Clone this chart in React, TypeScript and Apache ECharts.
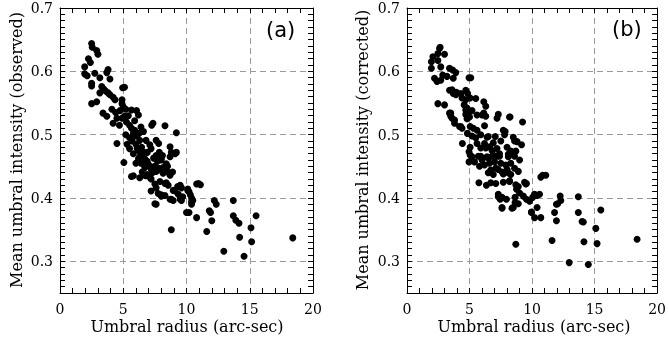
import React, { useEffect, useRef } from 'react';
import * as echarts from 'echarts';

// Panel (a): observed
const observedPoints: number[][] = [
  [2.5,0.644],[2.55,0.638],[2.9,0.633],[3.0,0.627],[2.25,0.620],[2.4,0.614],[1.95,0.607],[1.95,0.596],[2.15,0.593],[2.75,0.597],
  [3.15,0.590],[3.8,0.603],[3.7,0.598],[3.95,0.588],[2.5,0.581],[2.5,0.577],[3.3,0.576],[3.45,0.572],[3.6,0.569],[3.8,0.566],
  [3.95,0.563],[4.2,0.559],[3.15,0.566],[4.35,0.555],[5.1,0.575],[4.95,0.574],[2.5,0.549],[2.9,0.552],[4.9,0.555],[4.9,0.549],
  [5.0,0.544],[4.75,0.538],[5.2,0.540],[5.65,0.539],[6.05,0.538],[6.2,0.531],[3.4,0.534],[3.7,0.529],[4.5,0.526],[4.9,0.526],
  [5.1,0.529],[5.25,0.520],[5.5,0.515],[4.2,0.518],[4.7,0.515],[5.65,0.510],[5.9,0.507],[5.8,0.502],[6.0,0.498],[6.25,0.502],
  [6.3,0.491],[6.45,0.480],[6.2,0.475],[6.6,0.472],[5.8,0.470],[5.5,0.478],[5.05,0.456],[4.5,0.486],[6.8,0.491],[7.1,0.484],
  [7.2,0.478],[7.35,0.518],[7.25,0.515],[8.3,0.514],[7.6,0.491],[7.8,0.486],[7.85,0.472],[7.6,0.467],[8.7,0.481],[8.8,0.472],
  [9.2,0.503],[9.2,0.472],[8.1,0.467],[8.4,0.454],[5.2,0.500],[5.5,0.495],[5.7,0.490],[6.0,0.485],[6.1,0.478],[6.5,0.468],
  [6.7,0.462],[6.9,0.458],[7.0,0.453],[6.2,0.462],[6.4,0.455],[6.7,0.448],[7.2,0.446],[7.5,0.450],[7.7,0.458],[8.0,0.462],
  [7.3,0.440],[7.6,0.442],[7.9,0.445],[8.15,0.448],[8.5,0.450],[6.9,0.437],[6.5,0.441],[5.65,0.434],[6.3,0.432],[6.8,0.435],
  [7.2,0.430],[7.5,0.422],[7.6,0.416],[7.2,0.411],[7.6,0.390],[7.4,0.444],[7.8,0.447],[8.1,0.442],[8.4,0.445],[8.6,0.440],
  [8.0,0.403],[8.3,0.404],[8.7,0.398],[8.95,0.396],[8.4,0.424],[8.55,0.420],[9.45,0.419],[9.6,0.416],[9.1,0.411],[9.35,0.406],
  [9.5,0.398],[9.6,0.396],[8.8,0.350],[10.1,0.414],[10.2,0.410],[10.4,0.400],[10.5,0.396],[10.4,0.390],[10.0,0.377],[10.2,0.377],
  [10.8,0.369],[10.8,0.422],[10.95,0.423],[11.1,0.421],[11.8,0.380],[11.9,0.377],[12.0,0.364],[11.6,0.347],[12.2,0.396],[12.35,0.390],
  [12.95,0.316],[13.7,0.396],[13.7,0.372],[13.9,0.365],[14.15,0.360],[14.2,0.338],[14.55,0.308],[15.1,0.353],[15.15,0.331],[15.5,0.372],
  [18.4,0.337],[9.3,0.418],[10.1,0.412],[7.76,0.407],[8.0,0.405],[8.8,0.398],[8.95,0.412],[9.5,0.420],[9.7,0.402],[10.3,0.405],
  [10.4,0.394],[7.5,0.391],[5.8,0.435],[6.7,0.436],[7.1,0.433],[7.9,0.426],[8.15,0.439],[8.7,0.436],[8.9,0.441],[8.3,0.423],
  [6.3,0.465],[6.85,0.455],[7.35,0.449],[8.0,0.460],[8.7,0.465],[9.1,0.470],[4.1,0.540],[4.4,0.535],[5.4,0.530],[5.9,0.522],
  [6.4,0.512],[6.6,0.505],[5.3,0.485],[6.9,0.472],[7.4,0.463],[6.0,0.455]
];
const observedX = observedPoints.map(p => p[0]);
const observedY = observedPoints.map(p => p[1]);

// Panel (b): corrected
const correctedPoints: number[][] = [
  [2.6,0.636],[2.65,0.638],[2.47,0.628],[3.0,0.627],[2.07,0.623],[1.95,0.615],[2.47,0.617],[1.95,0.605],[2.7,0.607],[3.4,0.605],
  [3.65,0.602],[3.9,0.598],[2.2,0.589],[2.4,0.584],[2.7,0.586],[2.86,0.594],[3.2,0.592],[3.7,0.589],[4.96,0.590],[5.1,0.590],
  [3.4,0.570],[3.6,0.571],[3.7,0.565],[3.95,0.567],[4.3,0.565],[4.7,0.570],[4.85,0.565],[4.4,0.558],[4.7,0.555],[5.05,0.558],
  [5.5,0.557],[2.47,0.549],[3.0,0.547],[4.57,0.547],[4.8,0.542],[4.96,0.536],[5.2,0.538],[6.14,0.552],[6.3,0.545],[3.4,0.534],
  [3.5,0.529],[3.6,0.526],[4.7,0.532],[4.85,0.531],[5.0,0.528],[4.8,0.525],[5.6,0.531],[6.14,0.534],[6.3,0.529],[7.2,0.526],
  [7.3,0.532],[8.2,0.528],[9.24,0.520],[4.2,0.513],[4.4,0.510],[5.05,0.513],[5.3,0.510],[5.6,0.507],[6.2,0.514],[4.83,0.502],
  [5.2,0.498],[5.5,0.495],[5.9,0.500],[6.4,0.496],[7.06,0.497],[7.7,0.507],[7.8,0.500],[8.5,0.496],[8.6,0.490],[9.16,0.484],
  [8.7,0.474],[8.5,0.469],[8.1,0.469],[4.43,0.486],[4.96,0.473],[5.05,0.480],[5.6,0.486],[5.9,0.479],[6.2,0.486],[6.3,0.479],
  [6.6,0.481],[6.8,0.475],[7.2,0.478],[7.4,0.470],[5.05,0.468],[5.7,0.466],[5.9,0.466],[6.5,0.463],[6.8,0.466],[7.2,0.466],
  [5.2,0.465],[6.0,0.460],[6.4,0.465],[6.9,0.468],[7.4,0.466],[8.1,0.465],[8.6,0.466],[6.7,0.444],[7.1,0.447],[7.6,0.441],
  [8.1,0.440],[8.6,0.447],[8.9,0.442],[6.5,0.440],[6.9,0.437],[7.3,0.445],[7.7,0.438],[8.0,0.445],[8.3,0.437],[6.2,0.452],
  [6.6,0.455],[7.0,0.457],[7.5,0.455],[7.9,0.452],[8.3,0.455],[5.8,0.450],[5.4,0.457],[5.75,0.424],[6.35,0.420],[6.7,0.424],
  [7.1,0.423],[7.7,0.425],[8.2,0.427],[8.7,0.421],[9.4,0.425],[9.5,0.422],[8.76,0.414],[9.0,0.408],[9.3,0.403],[7.3,0.406],
  [7.6,0.401],[7.95,0.398],[7.45,0.398],[7.6,0.385],[8.64,0.401],[8.64,0.393],[8.5,0.385],[9.55,0.398],[9.8,0.395],[10.05,0.401],
  [10.2,0.406],[10.4,0.404],[10.6,0.406],[9.95,0.377],[10.2,0.369],[10.4,0.385],[10.7,0.369],[10.7,0.433],[10.85,0.436],[11.1,0.436],
  [8.7,0.327],[11.6,0.333],[11.8,0.377],[11.95,0.364],[11.95,0.390],[12.25,0.403],[12.3,0.396],[12.97,0.298],[13.7,0.402],[13.7,0.377],
  [14.0,0.363],[14.1,0.362],[14.15,0.331],[14.5,0.295],[15.1,0.352],[15.2,0.328],[15.5,0.381],[18.4,0.335],[8.2,0.426],[8.9,0.418],
  [9.55,0.423],[7.3,0.402],[8.9,0.391],[10.2,0.405],[9.95,0.378],[7.6,0.384],[8.4,0.384],[12.05,0.391],[3.9,0.563],[3.5,0.534],
  [3.8,0.523],[4.7,0.539],[6.0,0.531],[8.24,0.528],[4.3,0.513],[6.5,0.497],[7.85,0.505],[8.8,0.489],[4.96,0.457],[3.8,0.518],
  [6.9,0.487],[7.5,0.490],[8.0,0.480],[8.3,0.474],[9.0,0.460]
];
const correctedX = correctedPoints.map(p => p[0]);
const correctedY = correctedPoints.map(p => p[1]);

const xMin = 0, xMax = 20, xInterval = 5;
const yMin = 0.25, yMax = 0.7, yInterval = 0.05;
const panelLabels = ['(a)', '(b)'];
const yTitles = ['Mean umbral intensity (observed)', 'Mean umbral intensity (corrected)'];
const xTitle = 'Umbral radius (arc-sec)';

const FONT = 'DejaVu Serif';
const GRID_COLOR = '#9a9a9a';

const tickOnly = {
  axisLine: { show: true, onZero: false, lineStyle: { color: '#000' } },
  axisTick: { show: true, inside: true, length: 5, lineStyle: { color: '#000', width: 1 } },
  minorTick: { show: true, splitNumber: 5, length: 5, lineStyle: { color: '#000', width: 1 } },
};

function xAxes(gridIndex: number) {
  return [
    {
      gridIndex, type: 'value', min: xMin, max: xMax, interval: xInterval, position: 'bottom',
      axisLine: { show: true, onZero: false, lineStyle: { color: '#000' } },
      axisTick: { show: true, inside: true, length: 5, lineStyle: { color: '#000', width: 1 } },
      minorTick: { show: true, splitNumber: 5, length: 5, lineStyle: { color: '#000', width: 1 } },
      axisLabel: { margin: 9, fontFamily: FONT, fontSize: 14, color: '#000' },
      splitLine: { show: true, showMinLine: false, showMaxLine: false, lineStyle: { color: GRID_COLOR, type: [6, 4], width: 1 } },
    },
    {
      gridIndex, type: 'value', min: xMin, max: xMax, interval: xInterval, position: 'top',
      ...tickOnly, axisLabel: { show: false }, splitLine: { show: false },
    },
  ];
}

function yAxes(gridIndex: number) {
  return [
    {
      gridIndex, type: 'value', min: yMin, max: yMax, interval: yInterval, position: 'left',
      axisLine: { show: true, onZero: false, lineStyle: { color: '#000' } },
      axisTick: { show: true, inside: true, length: 5, lineStyle: { color: '#000', width: 1 } },
      minorTick: { show: true, splitNumber: 5, length: 5, lineStyle: { color: '#000', width: 1 } },
      axisLabel: {
        margin: 7, fontFamily: FONT, fontSize: 14, color: '#000',
        formatter: (v: number) => (Math.abs(v * 10 - Math.round(v * 10)) < 1e-6 ? v.toFixed(1) : ''),
      },
      splitLine: {
        show: true, showMinLine: true, showMaxLine: false,
        lineStyle: { color: ['rgba(0,0,0,0)', GRID_COLOR], type: [6, 4], width: 1 },
      },
    },
    {
      gridIndex, type: 'value', min: yMin, max: yMax, interval: yInterval, position: 'right',
      ...tickOnly, axisLabel: { show: false }, splitLine: { show: false },
    },
  ];
}

function titleText(text: string, x: number, y: number, rotation: number) {
  return {
    type: 'text', x, y, rotation,
    style: { text, fontFamily: FONT, fontSize: 16, fill: '#000', align: 'center', verticalAlign: 'middle' },
  };
}

export default function App() {
  const ref = useRef<HTMLDivElement>(null);
  useEffect(() => {
    document.body.style.margin = '0';
    if (!ref.current) return;
    const chart = echarts.init(ref.current, null, { renderer: 'svg' });
    const toData = (xs: number[], ys: number[]) => xs.map((x, i) => [x, ys[i]]);
    chart.setOption({
      animation: false,
      grid: [
        { left: 60, top: 8, width: 253, height: 285 },
        { left: 407, top: 8, width: 254, height: 285 },
      ],
      xAxis: [...xAxes(0), ...xAxes(1)],
      yAxis: [...yAxes(0), ...yAxes(1)],
      graphic: [
        titleText(xTitle, 187, 326, 0),
        titleText(xTitle, 534, 326, 0),
        titleText(yTitles[0], 16, 150, Math.PI / 2),
        titleText(yTitles[1], 362, 150, Math.PI / 2),
        { type: 'text', left: 266, top: 19, style: { text: panelLabels[0], fontFamily: 'DejaVu Sans', fontSize: 21, fill: '#000' } },
        { type: 'text', left: 612, top: 18, style: { text: panelLabels[1], fontFamily: 'DejaVu Sans', fontSize: 21, fill: '#000' } },
      ],
      series: [
        {
          type: 'scatter', xAxisIndex: 0, yAxisIndex: 0, symbol: 'circle', symbolSize: 7,
          itemStyle: { color: '#000', opacity: 1 }, data: toData(observedX, observedY),
        },
        {
          type: 'scatter', xAxisIndex: 2, yAxisIndex: 2, symbol: 'circle', symbolSize: 7,
          itemStyle: { color: '#000', opacity: 1 }, data: toData(correctedX, correctedY),
        },
      ],
    });
    return () => chart.dispose();
  }, []);
  return <div ref={ref} style={{ position: 'fixed', left: 0, top: 0, width: 669, height: 338 }} />;
}
